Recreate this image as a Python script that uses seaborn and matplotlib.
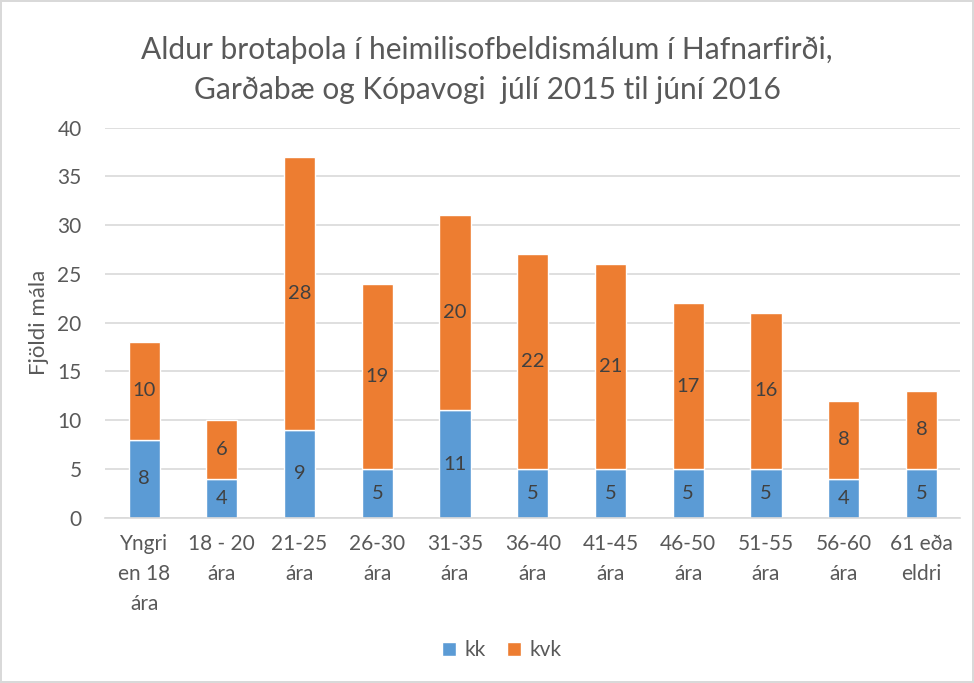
import matplotlib
matplotlib.use("Agg")
import matplotlib.pyplot as plt
import seaborn as sns
import pandas as pd

# Aldur brotaþola - fjöldi mála eftir aldri og kyni
flokkar = ["Yngri\nen 18\nára", "18 - 20\nára", "21-25\nára", "26-30\nára", "31-35\nára",
           "36-40\nára", "41-45\nára", "46-50\nára", "51-55\nára", "56-60\nára", "61 eða\neldri"]
kk = [8, 4, 9, 5, 11, 5, 5, 5, 5, 4, 5]
kvk = [10, 6, 28, 19, 20, 22, 21, 17, 16, 8, 8]

blar = "#5B9BD5"
appelsinugulur = "#ED7D31"
texti = "#595959"

sns.set_theme(style="white")
plt.rcParams["font.family"] = ["Lato", "DejaVu Sans"]

df = pd.DataFrame({"flokkur": flokkar, "kk": kk, "kvk": kvk})

fig = plt.figure(figsize=(9.74, 6.83), dpi=100)
ax = fig.add_axes([0.108, 0.242, 0.878, 0.571])

sns.barplot(data=df, x="flokkur", y="kk", color=blar, width=0.40,
            saturation=1, ax=ax, label="kk")
sns.barplot(data=df, x="flokkur", y="kvk", color=appelsinugulur, width=0.40,
            saturation=1, ax=ax, bottom=df["kk"], label="kvk")

handles, labels = ax.get_legend_handles_labels()
if ax.get_legend() is not None:
    ax.get_legend().remove()

for c in ax.containers:
    ax.bar_label(c, label_type="center", color="#404040", fontsize=14.5)

ax.set_ylim(0, 40)
ax.set_yticks(range(0, 41, 5))
ax.yaxis.grid(True, color="#D9D9D9", linewidth=1.2)
ax.set_axisbelow(True)
for s in ["top", "right", "left"]:
    ax.spines[s].set_visible(False)
ax.spines["bottom"].set_color("#D9D9D9")
ax.spines["bottom"].set_linewidth(1.2)
ax.set_xticks(range(len(flokkar)))
ax.set_xticklabels(flokkar, linespacing=1.6)
ax.tick_params(axis="both", colors=texti, labelsize=15, length=0)
ax.tick_params(axis="y", pad=17)
ax.tick_params(axis="x", pad=12)
ax.set_xlabel("")
ax.set_ylabel("Fjöldi mála", color=texti, fontsize=16, labelpad=6)

fig.suptitle("Aldur brotaþola í heimilisofbeldismálum í Hafnarfirði,\n"
             "Garðabæ og Kópavogi  júlí 2015 til júní 2016",
             color=texti, fontsize=21.5, y=0.948, linespacing=1.55)

leg = fig.legend(handles, labels, loc="center", bbox_to_anchor=(0.515, 0.048), ncol=2,
                 frameon=False, fontsize=15, handlelength=0.7, handleheight=0.7,
                 columnspacing=1.0, handletextpad=0.4)
for t in leg.get_texts():
    t.set_color(texti)

fig.patch.set_edgecolor("#D9D9D9")
fig.patch.set_linewidth(1.5)
fig.savefig("out.png", dpi=100, edgecolor=fig.get_edgecolor())
